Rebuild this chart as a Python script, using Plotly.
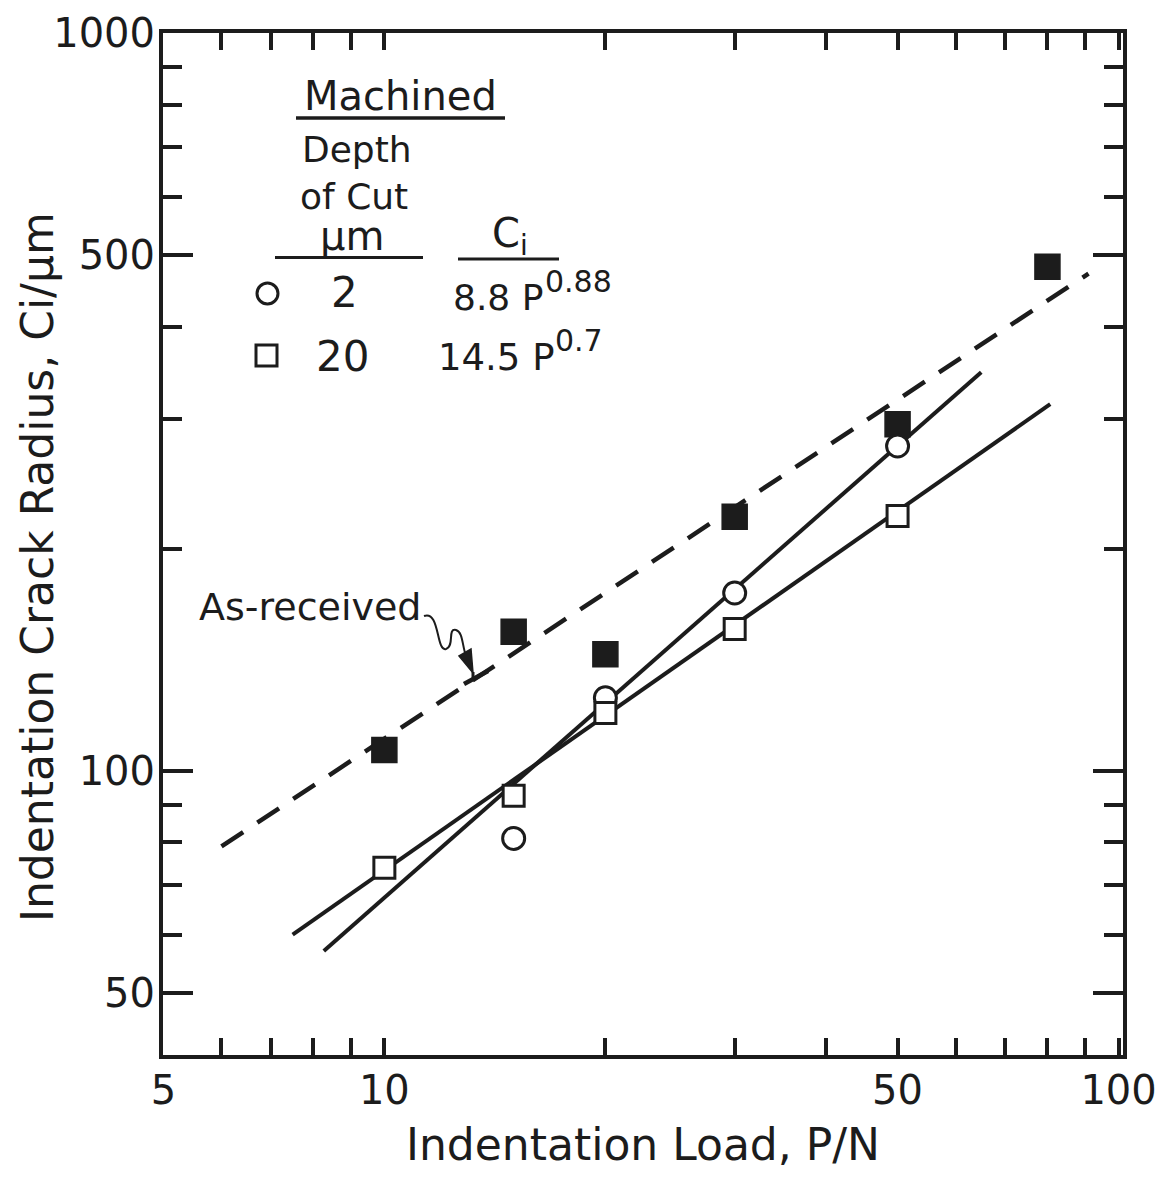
import plotly.graph_objects as go

# ---------------- data ----------------
load_as_received = [10, 15, 20, 30, 50, 80]
crack_as_received = [106.7, 154.4, 143.9, 221, 295, 482]

load_2um = [15, 20, 30, 50]
crack_2um = [81, 125.6, 174.2, 275.6]

load_20um = [10, 15, 20, 30, 50]
crack_20um = [73.9, 92.5, 119.8, 155.7, 221.5]

# fitted lines: end points
fit_2um_load = [8.27, 65]
fit_2um_crack = [57, 347]
fit_20um_load = [7.5, 80.7]
fit_20um_crack = [60, 314]
fit_ar_load = [6.0, 91]
fit_ar_crack = [79, 472]

x_tick_vals = [5, 10, 50, 100]
x_tick_text = ["5", "10", "50", "100"]
x_minor_vals = [6, 7, 8, 9, 20, 30, 40, 50, 60, 70, 80, 90]
y_tick_vals = [50, 100, 500, 1000]
y_tick_text = ["50", "100", "500", "1000"]
y_minor_vals = [60, 70, 80, 90, 200, 300, 400, 600, 700, 800, 900]

INK = "#1c1c1c"
FONT = "DejaVu Sans"

# page geometry: the html body adds an 8 px offset
PAGE_W, PAGE_H = 1166, 1179
OFF = 8
# plot area in page pixels
L, R, T, B = 163, 1123, 33, 1055
FIG_W, FIG_H = PAGE_W - OFF, PAGE_H - OFF


def px(x):
    return (x - L) / (R - L)


def py(y):
    return (B - y) / (B - T)


def P(x, y):
    return f"{px(x):.5f},{py(y):.5f}"


fig = go.Figure()

line_w = 4
fig.add_trace(go.Scatter(x=fit_ar_load, y=fit_ar_crack, mode="lines",
                         line=dict(color=INK, width=4.5, dash="26px,17px"),
                         hoverinfo="skip"))
fig.add_trace(go.Scatter(x=fit_2um_load, y=fit_2um_crack, mode="lines",
                         line=dict(color=INK, width=line_w), hoverinfo="skip"))
fig.add_trace(go.Scatter(x=fit_20um_load, y=fit_20um_crack, mode="lines",
                         line=dict(color=INK, width=line_w), hoverinfo="skip"))

fig.add_trace(go.Scatter(x=load_as_received, y=crack_as_received, mode="markers",
                         name="As-received",
                         marker=dict(symbol="square", size=25, color=INK,
                                     line=dict(width=1.5, color=INK))))
fig.add_trace(go.Scatter(x=load_2um, y=crack_2um, mode="markers", name="2 µm",
                         marker=dict(symbol="circle", size=22, color="white",
                                     line=dict(width=3, color=INK))))
fig.add_trace(go.Scatter(x=load_20um, y=crack_20um, mode="markers", name="20 µm",
                         marker=dict(symbol="square", size=21, color="white",
                                     line=dict(width=3, color=INK))))

xr = [0.6985, 2.006]
yr = [1.6149, 3.0]

fig.update_layout(
    width=FIG_W, height=FIG_H,
    margin=dict(l=L - OFF, r=PAGE_W - R, t=T - OFF, b=PAGE_H - B, autoexpand=False),
    plot_bgcolor="white", paper_bgcolor="white",
    showlegend=False,
    font=dict(family=FONT, color=INK),
    xaxis=dict(
        type="log", range=xr, tickmode="array", automargin=False,
        tickvals=x_tick_vals, ticktext=x_tick_text,
        ticks="inside", ticklen=17, tickwidth=3.5, tickcolor=INK,
        showline=True, linewidth=4, linecolor=INK, mirror="ticks",
        showgrid=False, zeroline=False,
        tickfont=dict(size=40, family=FONT, color=INK),
        ticklabelstandoff=-3,
        minor=dict(tickvals=x_minor_vals, ticks="inside", ticklen=17,
                   tickwidth=3.5, tickcolor=INK, showgrid=False),
        title=dict(text="Indentation Load, P/N",
                   font=dict(size=44, family=FONT, color=INK), standoff=18),
    ),
    xaxis2=dict(
        type="log", range=xr, overlaying="x", anchor="y", side="bottom",
        tickmode="array", tickvals=[10], ticks="inside", ticklen=28,
        tickwidth=3.5, tickcolor=INK, showticklabels=False, automargin=False,
        mirror="ticks", showline=False, showgrid=False, zeroline=False,
    ),
    yaxis=dict(
        type="log", range=yr, tickmode="array", automargin=False,
        tickvals=y_tick_vals, ticktext=y_tick_text,
        ticks="inside", ticklen=30, tickwidth=3.5, tickcolor=INK,
        showline=True, linewidth=4, linecolor=INK, mirror="ticks",
        showgrid=False, zeroline=False,
        tickfont=dict(size=40, family=FONT, color=INK),
        ticklabelstandoff=-4,
        minor=dict(tickvals=y_minor_vals, ticks="inside", ticklen=19,
                   tickwidth=3.5, tickcolor=INK, showgrid=False),
    ),
)

ann = []


def text(t, x, y, size, xanchor="left", yanchor="middle", angle=0):
    ann.append(dict(text=t, x=px(x), y=py(y), xref="paper", yref="paper",
                    xanchor=xanchor, yanchor=yanchor, showarrow=False,
                    textangle=angle,
                    font=dict(size=size, family=FONT, color=INK)))


# y-axis title
text("Indentation Crack Radius, Ci/µm", 37, 567, 44, xanchor="center", angle=-90)

# legend block
text("Machined", 400, 96, 40, xanchor="center")
text("Depth", 300, 150, 36)
text("of Cut", 298, 196, 36)
text("µm", 352, 236, 40, xanchor="center")
text("C<sub>i</sub>", 510, 236, 40, xanchor="center")
text("2", 344, 292, 42, xanchor="center")
text("8.8 P", 451, 298, 36)
text("0.88", 543, 281, 30)
text("20", 342, 356, 42, xanchor="center")
text("14.5 P", 436, 357, 37)
text("0.7", 553, 340, 30)
text("As-received", 197, 607, 38)

shapes = [
    dict(type="line", xref="paper", yref="paper", x0=px(296), x1=px(505),
         y0=py(118), y1=py(118), line=dict(color=INK, width=3.5)),
    dict(type="line", xref="paper", yref="paper", x0=px(275), x1=px(423),
         y0=py(257.5), y1=py(257.5), line=dict(color=INK, width=3)),
    dict(type="line", xref="paper", yref="paper", x0=px(458), x1=px(559),
         y0=py(259), y1=py(259), line=dict(color=INK, width=3)),
    dict(type="circle", xref="paper", yref="paper", x0=px(257), x1=px(278),
         y0=py(283), y1=py(304), line=dict(color=INK, width=3), fillcolor="white"),
    dict(type="rect", xref="paper", yref="paper", x0=px(256), x1=px(277),
         y0=py(345), y1=py(366), line=dict(color=INK, width=3), fillcolor="white"),
    # squiggly pointer to the dashed line
    dict(type="path", xref="paper", yref="paper",
         path="M " + P(424, 616) + " C " + P(440, 610) + " " + P(436, 652) + " " + P(446, 649)
         + " C " + P(455, 646) + " " + P(447, 628) + " " + P(456, 630)
         + " C " + P(463, 632) + " " + P(462, 645) + " " + P(466, 656),
         line=dict(color=INK, width=2)),
    dict(type="path", xref="paper", yref="paper",
         path="M " + P(459, 656) + " L " + P(471, 649) + " L " + P(473, 673) + " Z",
         line=dict(color=INK, width=1.5), fillcolor=INK),
    dict(type="line", xref="paper", yref="paper", x0=px(473), x1=px(473),
         y0=py(672), y1=py(679), line=dict(color=INK, width=3)),
    dict(type="line", xref="paper", yref="paper", x0=px(464), x1=px(488),
         y0=py(684), y1=py(671), line=dict(color=INK, width=4.5)),
]

fig.update_layout(annotations=ann, shapes=shapes)
fig.write_html("out.html")
